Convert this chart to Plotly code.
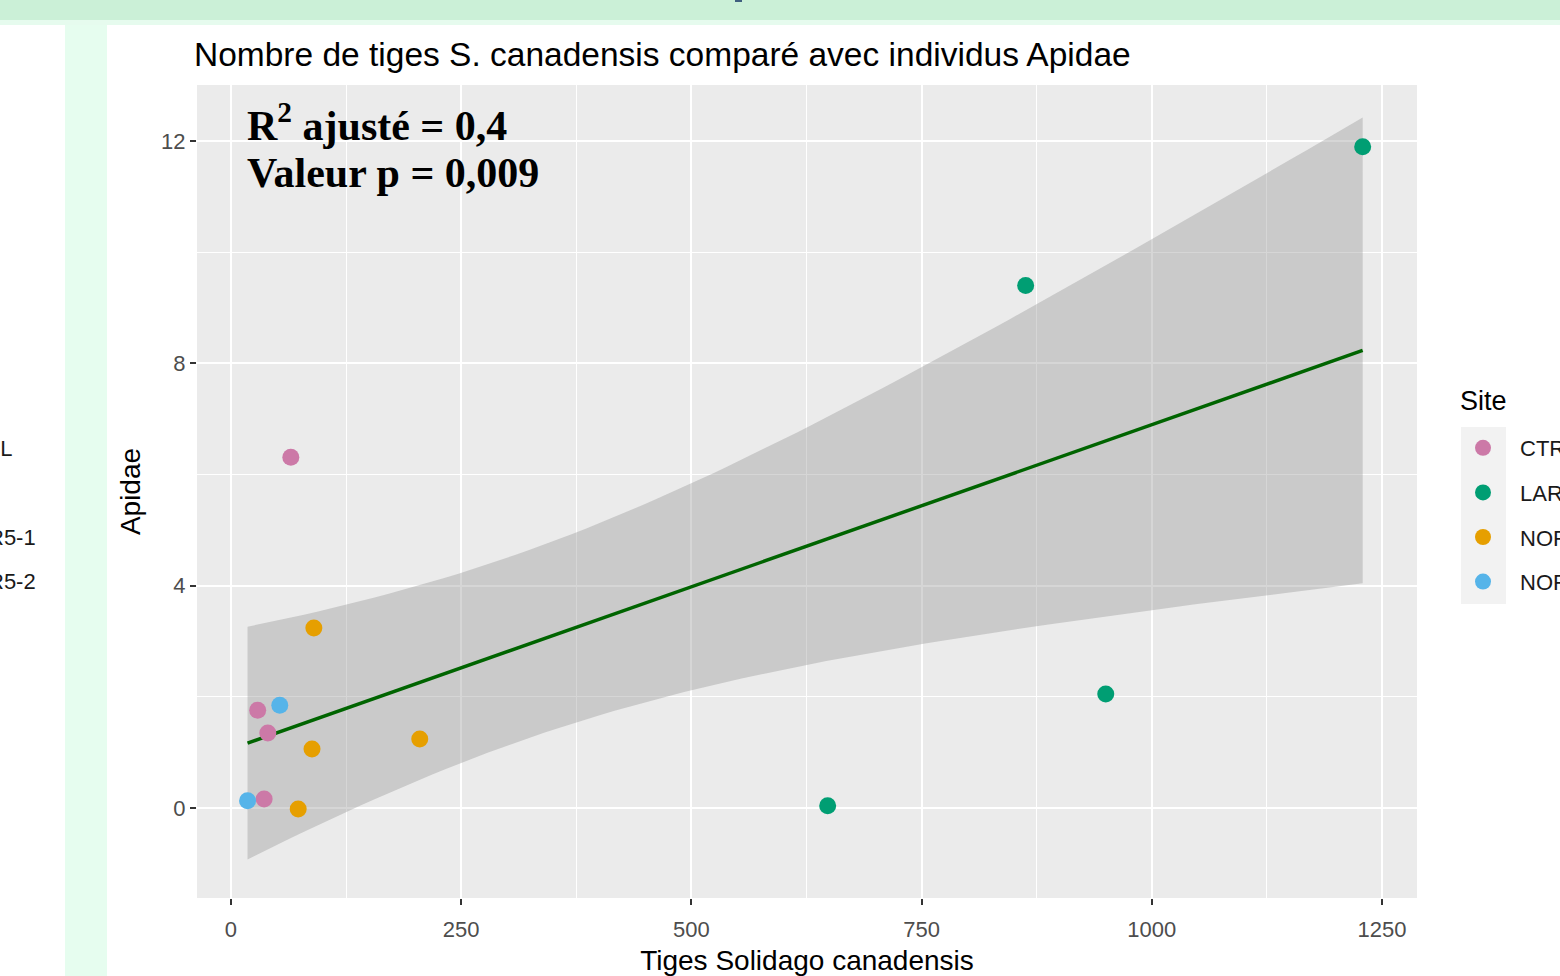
import numpy as np
import plotly.graph_objects as go

# ---------------- data ----------------
sites = ["CTRL", "LAR", "NOR5-1", "NOR5-2"]
site_colors = ["#CC79A7", "#009E73", "#E69F00", "#56B4E9"]

ctrl_tiges = [65, 29, 40, 36]
ctrl_apidae = [6.31, 1.76, 1.35, 0.16]
lar_tiges = [1229, 863, 950, 648]
lar_apidae = [11.9, 9.4, 2.05, 0.04]
nor51_tiges = [90, 88, 205, 73]
nor51_apidae = [3.24, 1.06, 1.24, -0.02]
nor52_tiges = [53, 18]
nor52_apidae = [1.85, 0.13]

x_ticks = [0, 250, 500, 750, 1000, 1250]
y_ticks = [0, 4, 8, 12]

chart_title = "Nombre de tiges S. canadensis comparé avec individus Apidae"
x_title = "Tiges Solidago canadensis"
y_title = "Apidae"
legend_title = "Site"
stat_line1 = "<b>R<sup>2</sup> ajusté = 0,4</b>"
stat_line2 = "<b>Valeur p = 0,009</b>"

# ---------------- linear model (geom_smooth method = "lm") ----------------
series_x = [ctrl_tiges, lar_tiges, nor51_tiges, nor52_tiges]
series_y = [ctrl_apidae, lar_apidae, nor51_apidae, nor52_apidae]
xa = np.array(sum(series_x, []), dtype=float)
ya = np.array(sum(series_y, []), dtype=float)
n = len(xa)
slope, intercept = np.polyfit(xa, ya, 1)
resid = ya - (slope * xa + intercept)
s = np.sqrt(np.sum(resid ** 2) / (n - 2))
sxx = np.sum((xa - xa.mean()) ** 2)
t_crit = 2.178813  # t quantile 0.975, df = 12
xs = np.linspace(xa.min(), xa.max(), 80)
fit = slope * xs + intercept
se = s * np.sqrt(1.0 / n + (xs - xa.mean()) ** 2 / sxx)
upper = fit + t_crit * se
lower = fit - t_crit * se

# ---------------- layout geometry (pixels) ----------------
W, H = 1560, 976
L, T, R, B = 197, 85, 1417, 898
PW, PH = R - L, B - T


def px(x):
    return (x - L) / PW


def py(y):
    return 1 - (y - T) / PH


FONT = "Liberation Sans, Arial, sans-serif"
SERIF = "Liberation Serif, Times New Roman, serif"

fig = go.Figure()

# confidence ribbon
fig.add_trace(go.Scatter(
    x=np.concatenate([xs, xs[::-1]]), y=np.concatenate([upper, lower[::-1]]),
    fill="toself", fillcolor="rgba(153,153,153,0.4)", line=dict(width=0),
    mode="lines", hoverinfo="skip", showlegend=False))
# regression line
fig.add_trace(go.Scatter(x=xs, y=fit, mode="lines",
                         line=dict(color="#006400", width=3.5),
                         showlegend=False, hoverinfo="skip"))
# points
for name, col, sx, sy in zip(sites, site_colors, series_x, series_y):
    fig.add_trace(go.Scatter(x=sx, y=sy, mode="markers", name=name,
                             legendgroup=name,
                             marker=dict(color=col, size=17, line=dict(width=0))))

grid = "#FFFFFF"
fig.update_xaxes(
    range=[-36.9, 1288.0], tickvals=x_ticks, ticktext=[str(v) for v in x_ticks],
    showgrid=True, gridcolor=grid, gridwidth=2, zeroline=False,
    ticks="outside", ticklen=6, tickwidth=2, tickcolor="#333333",
    ticklabelstandoff=6,
    tickfont=dict(family=FONT, size=22, color="#4D4D4D"),
    minor=dict(dtick=125, tick0=0, showgrid=True, gridcolor=grid, gridwidth=1, ticklen=0),
    title=dict(text=x_title, font=dict(family=FONT, size=28, color="#000000"), standoff=11),
    showline=False)
fig.update_yaxes(
    range=[-1.62, 13.01], tickvals=y_ticks, ticktext=[str(v) for v in y_ticks],
    showgrid=True, gridcolor=grid, gridwidth=2, zeroline=False,
    ticks="outside", ticklen=6, tickwidth=2, tickcolor="#333333",
    tickfont=dict(family=FONT, size=22, color="#4D4D4D"),
    minor=dict(dtick=2, tick0=0, showgrid=True, gridcolor=grid, gridwidth=1, ticklen=0),
    title=dict(text=y_title, font=dict(family=FONT, size=28, color="#000000"), standoff=12),
    showline=False)

shapes = [
    # page decorations
    dict(type="rect", xref="paper", yref="paper", x0=px(0), x1=px(W), y0=py(0), y1=py(20),
         fillcolor="#CBF0D7", line=dict(width=0), layer="below"),
    dict(type="rect", xref="paper", yref="paper", x0=px(0), x1=px(W), y0=py(20), y1=py(25),
         fillcolor="#E6FBEE", line=dict(width=0), layer="below"),
    dict(type="rect", xref="paper", yref="paper", x0=px(65), x1=px(107), y0=py(25), y1=py(H),
         fillcolor="#E6FDEF", line=dict(width=0), layer="below"),
    dict(type="rect", xref="paper", yref="paper", x0=px(735), x1=px(742), y0=py(0), y1=py(2),
         fillcolor="#3F5F7F", line=dict(width=0), layer="below"),
    # legend key background
    dict(type="rect", xref="paper", yref="paper", x0=px(1461), x1=px(1506), y0=py(427), y1=py(604),
         fillcolor="#F2F2F2", line=dict(width=0), layer="below"),
]

annotations = [
    dict(text=stat_line1, xref="paper", yref="paper", x=px(245), y=py(122),
         xanchor="left", yanchor="middle", showarrow=False,
         font=dict(family=SERIF, size=42, color="#000000")),
    dict(text=stat_line2, xref="paper", yref="paper", x=px(245), y=py(173),
         xanchor="left", yanchor="middle", showarrow=False,
         font=dict(family=SERIF, size=42, color="#000000")),
    dict(text=legend_title, xref="paper", yref="paper", x=px(1458), y=py(401),
         xanchor="left", yanchor="middle", showarrow=False,
         font=dict(family=FONT, size=27, color="#000000")),
]
# clipped labels of a neighbouring chart at the left edge
for i, name in enumerate(sites):
    annotations.append(dict(text=name, xref="paper", yref="paper", x=px(-47), y=py(449 + 44 * i),
                            xanchor="left", yanchor="middle", showarrow=False,
                            font=dict(family=FONT, size=22, color="#1A1A1A")))

fig.update_layout(
    width=W, height=H,
    margin=dict(l=L, r=W - R, t=T, b=H - B, autoexpand=False),
    paper_bgcolor="#FFFFFF", plot_bgcolor="#EBEBEB",
    title=dict(text=chart_title, x=194 / W, xref="container", xanchor="left",
               y=1 - 54 / H, yref="container", yanchor="middle",
               font=dict(family=FONT, size=33.5, color="#000000")),
    legend=dict(x=px(1446), y=py(427), xanchor="left", yanchor="top",
                bgcolor="rgba(0,0,0,0)", itemwidth=64, tracegroupgap=13,
                font=dict(family=FONT, size=22, color="#1A1A1A")),
    shapes=shapes, annotations=annotations,
    showlegend=True,
)

fig.write_html("out.html", config={"displayModeBar": False},
               post_script="document.body.style.margin='0';document.body.style.overflow='hidden';")
